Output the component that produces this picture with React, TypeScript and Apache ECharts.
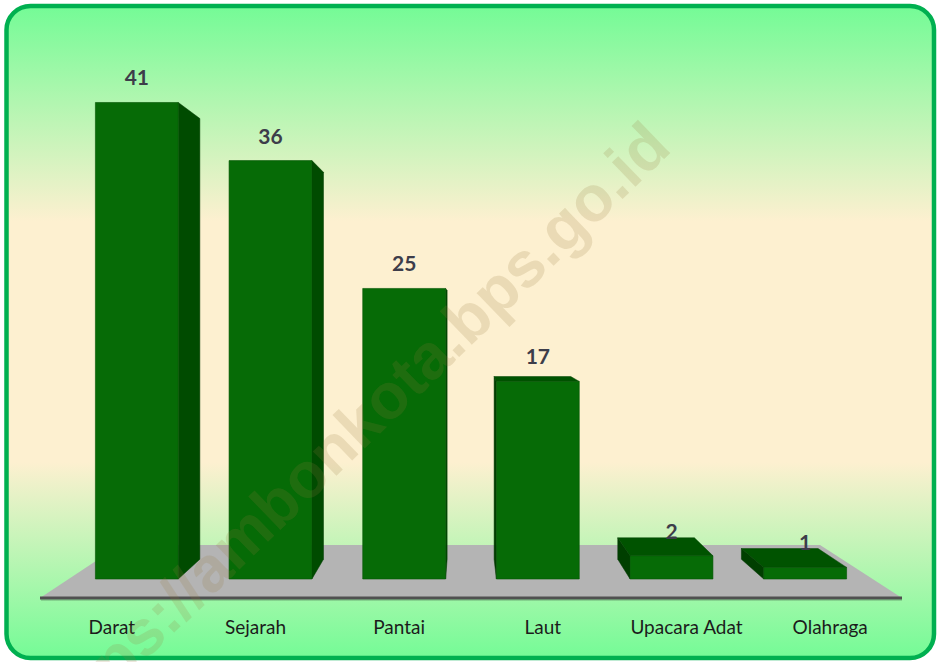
import React, { useEffect, useRef } from "react";
import * as echarts from "echarts";

const categories = ["Darat", "Sejarah", "Pantai", "Laut", "Upacara Adat", "Olahraga"];
const values = [41, 36, 25, 17, 2, 1];
const yMax = 45;

// perspective settings (pixels)
const VP = [466, 316];
const BAR_DEPTH = 0.075;
const FLOOR_BACK = 0.812;
const FLOOR_LEFT = 40;
const FLOOR_RIGHT = 902;
const FLOOR_Y = 598;

const toVP = (p: number[], k: number) => [VP[0] + k * (p[0] - VP[0]), VP[1] + k * (p[1] - VP[1])];

export default function App() {
  const ref = useRef<HTMLDivElement>(null);
  useEffect(() => {
    if (!ref.current) return;
    const chart = echarts.init(ref.current, null, { renderer: "svg" });
    const back = (p: number[]) => toVP(p, 1 - BAR_DEPTH);
    const floorPts = [
      [FLOOR_LEFT, FLOOR_Y],
      [FLOOR_RIGHT, FLOOR_Y],
      toVP([FLOOR_RIGHT, FLOOR_Y], FLOOR_BACK),
      toVP([FLOOR_LEFT, FLOOR_Y], FLOOR_BACK),
    ];
    const renderItem = (params: any, api: any) => {
      const idx = api.value(0);
      const v = api.value(1);
      const top = api.coord([idx, v]);
      const bot = api.coord([idx, 0]);
      const band = api.size([1, 0])[0];
      const w = band * 0.62;
      const xl = top[0] - w / 2;
      const xr = top[0] + w / 2;
      const yt = top[1];
      const yb = bot[1];
      const children: any[] = [];
      if (xr < VP[0]) {
        children.push({
          type: "polygon",
          shape: { points: [[xr, yt], [xr, yb], back([xr, yb]), back([xr, yt])] },
          style: { fill: "#004b00", stroke: "#003c00", lineWidth: 0.5 },
        });
      }
      if (xl > VP[0]) {
        children.push({
          type: "polygon",
          shape: { points: [[xl, yt], [xl, yb], back([xl, yb]), back([xl, yt])] },
          style: { fill: "#003f00", stroke: "#003400", lineWidth: 0.5 },
        });
      }
      if (yt > VP[1]) {
        children.push({
          type: "polygon",
          shape: { points: [[xl, yt], [xr, yt], back([xr, yt]), back([xl, yt])] },
          style: { fill: "#005300", stroke: "#004400", lineWidth: 0.5 },
        });
      }
      children.push({
        type: "rect",
        shape: { x: xl, y: yt, width: w, height: yb - yt },
        style: { fill: "#066b06", stroke: "#045404", lineWidth: 0.6 },
      });
      children.push({
        type: "text",
        style: {
          text: String(v),
          x: top[0],
          y: yt - 15,
          align: "center",
          verticalAlign: "bottom",
          fontFamily: "Lato",
          fontWeight: "bold",
          fontSize: 21,
          fill: "#3d3d4a",
        },
      });
      return { type: "group", children };
    };
    chart.setOption({
      animation: false,
      grid: [
        { left: 70, width: 802, top: 56, height: 523 },
        { left: FLOOR_LEFT, width: FLOOR_RIGHT - FLOOR_LEFT, top: 56, height: FLOOR_Y - 56 },
      ],
      xAxis: [
        { type: "category", data: categories, gridIndex: 0, show: false },
        {
          type: "category",
          data: categories,
          gridIndex: 1,
          axisLine: { show: false },
          axisTick: { show: false },
          axisLabel: {
            margin: 19,
            fontFamily: "Lato",
            fontSize: 19,
            color: "#1c1c1c",
            interval: 0,
          },
        },
      ],
      yAxis: [
        { type: "value", min: 0, max: yMax, gridIndex: 0, show: false },
        { type: "value", min: 0, max: yMax, gridIndex: 1, show: false },
      ],
      graphic: {
        elements: [
          {
            type: "rect",
            z: -10,
            shape: { x: 6.5, y: 6, width: 927.5, height: 652, r: 24 },
            style: {
              fill: new echarts.graphic.LinearGradient(0, 0, 0, 1, [
                { offset: 0, color: "#74fb96" },
                { offset: 0.33, color: "#fdf0d0" },
                { offset: 0.7, color: "#fdf0d0" },
                { offset: 1, color: "#74fb96" },
              ]),
              stroke: "#00b050",
              lineWidth: 4.5,
            },
          },
          {
            type: "polygon",
            z: -5,
            shape: { points: floorPts },
            style: { fill: "#b4b4b4" },
          },
          {
            type: "rect",
            z: -4,
            shape: { x: FLOOR_LEFT + 1, y: FLOOR_Y, width: FLOOR_RIGHT - FLOOR_LEFT - 1, height: 3 },
            style: { fill: "rgba(0,0,0,0.15)" },
          },
          {
            type: "rect",
            z: -3,
            shape: { x: FLOOR_LEFT, y: FLOOR_Y - 1.5, width: FLOOR_RIGHT - FLOOR_LEFT, height: 3 },
            style: { fill: "#505050" },
          },
          {
            type: "text",
            z: 100,
            x: 350,
            y: 432,
            rotation: (44 * Math.PI) / 180,
            style: {
              text: "https://ambonkota.bps.go.id",
              fontFamily: "Liberation Sans",
              fontWeight: "bold",
              fontSize: 64,
              fill: "rgba(150,120,60,0.18)",
              align: "center",
              verticalAlign: "middle",
            },
          },
        ],
      },
      series: [
        {
          type: "custom",
          xAxisIndex: 0,
          yAxisIndex: 0,
          renderItem,
          data: values.map((v, i) => [i, v]),
          encode: { x: 0, y: 1 },
          z: 3,
        },
      ],
    });
    return () => chart.dispose();
  }, []);
  return (
    <div
      ref={ref}
      style={{ position: "fixed", left: 0, top: 0, width: 941, height: 662, background: "#ffffff" }}
    />
  );
}
